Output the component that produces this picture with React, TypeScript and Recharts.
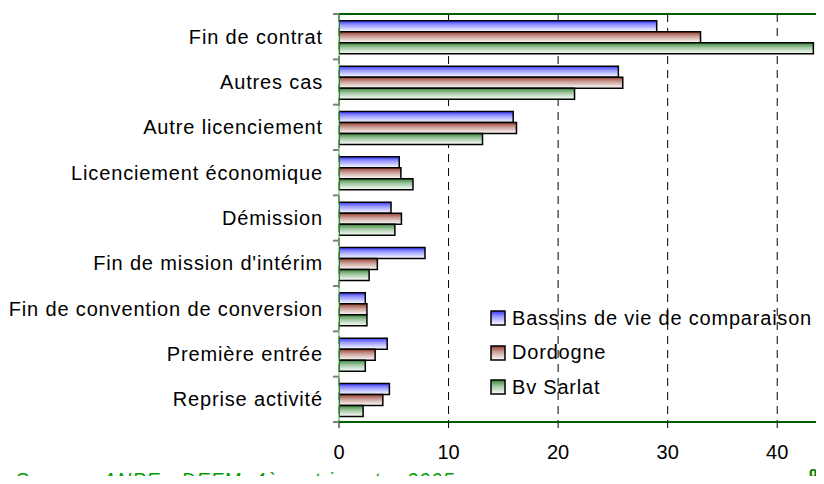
import React from 'react';
import { BarChart, Bar, XAxis, YAxis, CartesianGrid, Legend } from 'recharts';

const categories = [
  'Fin de contrat',
  'Autres cas',
  'Autre licenciement',
  'Licenciement économique',
  'Démission',
  "Fin de mission d'intérim",
  'Fin de convention de conversion',
  'Première entrée',
  'Reprise activité',
];
const bassins = [29.0, 25.5, 15.9, 5.5, 4.75, 7.85, 2.4, 4.4, 4.6];
const dordogne = [33.0, 25.9, 16.2, 5.65, 5.7, 3.5, 2.55, 3.3, 4.0];
const sarlat = [43.3, 21.5, 13.1, 6.75, 5.1, 2.75, 2.55, 2.4, 2.2];
const seriesNames = ['Bassins de vie de comparaison', 'Dordogne', 'Bv Sarlat'];
const xTicks = [0, 10, 20, 30, 40];
const sourceText = 'Source : ANPE - DEFM, 4ème trimestre 2005';
const unitText = '%';

const data = categories.map((name, i) => ({
  name,
  bassins: bassins[i],
  dordogne: dordogne[i],
  sarlat: sarlat[i],
}));

const FONT = '"Liberation Sans", Arial, sans-serif';

const renderLegend = (props: any) => {
  const payload = [...(props.payload || [])].sort(
    (a: any, b: any) => seriesNames.indexOf(a.value) - seriesNames.indexOf(b.value)
  );
  return (
    <div style={{ fontFamily: FONT }}>
      {payload.map((entry: any, i: number) => (
        <div
          key={i}
          style={{ display: 'flex', alignItems: 'center', height: 34.5 }}
        >
          <svg width={16} height={16} style={{ marginRight: 6, flex: 'none' }}>
            <rect
              x={1}
              y={1}
              width={14}
              height={14}
              fill={entry.color}
              stroke="#000"
              strokeWidth={1.5}
            />
          </svg>
          <span style={{ fontSize: 20, color: '#000', letterSpacing: 0.8, whiteSpace: 'nowrap' }}>
            {entry.value}
          </span>
        </div>
      ))}
    </div>
  );
};

const CategoryTick = (props: any) => {
  const { x, y, payload, index, visibleTicksCount } = props;
  const half = payload && typeof payload.offset === 'number' ? payload.offset : 0;
  const isLast = index === (visibleTicksCount ?? categories.length) - 1;
  return (
    <g>
      <line x1={x + 10} x2={x + 16} y1={y - half} y2={y - half} stroke="#808080" strokeWidth={2} />
      {isLast && (
        <line x1={x + 10} x2={x + 16} y1={y + half} y2={y + half} stroke="#808080" strokeWidth={2} />
      )}
      <text
        x={x}
        y={y}
        dy="0.355em"
        textAnchor="end"
        fontSize={20}
        fill="#000"
        fontFamily={FONT}
        letterSpacing={0.85}
      >
        {payload.value}
      </text>
    </g>
  );
};

export default function App() {
  return (
    <div
      style={{
        margin: -8,
        width: 824,
        height: 484,
        overflow: 'hidden',
        position: 'relative',
        background: '#fff',
      }}
    >
      <BarChart
        width={850}
        height={484}
        data={data}
        layout="vertical"
        margin={{ top: 14, right: 18, left: 0, bottom: 0 }}
        barCategoryGap="15%"
        barGap={0}
      >
        <defs>
          <linearGradient id="gBlue" x1="0" y1="0" x2="0" y2="1">
            <stop offset="0%" stopColor="#3a3aff" />
            <stop offset="40%" stopColor="#9c9cff" />
            <stop offset="100%" stopColor="#ffffff" />
          </linearGradient>
          <linearGradient id="gRed" x1="0" y1="0" x2="0" y2="1">
            <stop offset="0%" stopColor="#943c2c" />
            <stop offset="40%" stopColor="#c89c94" />
            <stop offset="100%" stopColor="#ffffff" />
          </linearGradient>
          <linearGradient id="gGreen" x1="0" y1="0" x2="0" y2="1">
            <stop offset="0%" stopColor="#348434" />
            <stop offset="40%" stopColor="#9cc49c" />
            <stop offset="100%" stopColor="#ffffff" />
          </linearGradient>
        </defs>
        <CartesianGrid
          horizontal={false}
          vertical={true}
          stroke="#000"
          strokeDasharray="8 6"
        />
        <CartesianGrid
          vertical={false}
          horizontal={true}
          stroke="#006000"
          strokeWidth={2}
          horizontalCoordinatesGenerator={(p: any) => [p.offset.top]}
        />
        <XAxis
          type="number"
          domain={[0, 45]}
          ticks={xTicks}
          allowDataOverflow
          height={62}
          axisLine={{ stroke: '#006000', strokeWidth: 2 }}
          tickLine={{ stroke: '#000' }}
          tickSize={6}
          tickMargin={17}
          tick={{ fontSize: 20, fill: '#000', fontFamily: FONT }}
        />
        <YAxis
          type="category"
          dataKey="name"
          width={339}
          axisLine={{ stroke: '#40c040', strokeWidth: 1 }}
          tickLine={false}
          tickSize={0}
          tickMargin={16}
          interval={0}
          tick={<CategoryTick />}
        />
        <Legend
          layout="vertical"
          align="center"
          verticalAlign="middle"
          wrapperStyle={{ left: 490, top: 301, width: 340 }}
          content={renderLegend}
        />
        <Bar
          dataKey="bassins"
          name={seriesNames[0]}
          fill="url(#gBlue)"
          stroke="#000"
          strokeWidth={1.5}
          isAnimationActive={false}
        />
        <Bar
          dataKey="dordogne"
          name={seriesNames[1]}
          fill="url(#gRed)"
          stroke="#000"
          strokeWidth={1.5}
          isAnimationActive={false}
        />
        <Bar
          dataKey="sarlat"
          name={seriesNames[2]}
          fill="url(#gGreen)"
          stroke="#000"
          strokeWidth={1.5}
          isAnimationActive={false}
        />
      </BarChart>
      <div
        style={{
          position: 'absolute',
          left: 15,
          top: 470,
          fontFamily: FONT,
          fontSize: 20,
          lineHeight: '20px',
          fontStyle: 'italic',
          color: '#00a000',
          whiteSpace: 'nowrap',
          letterSpacing: 0.9,
        }}
      >
        {sourceText}
      </div>
      <div
        style={{
          position: 'absolute',
          left: 809,
          top: 465,
          fontFamily: FONT,
          fontSize: 21,
          lineHeight: '21px',
          fontWeight: 'bold',
          color: '#008000',
          whiteSpace: 'nowrap',
        }}
      >
        {unitText}
      </div>
    </div>
  );
}
